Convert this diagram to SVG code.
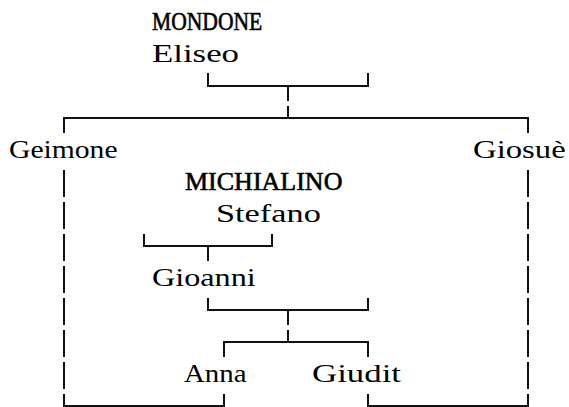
<svg xmlns="http://www.w3.org/2000/svg" width="569" height="407" viewBox="0 0 569 407">
<style>
.t{font-family:"Liberation Serif","Times New Roman",serif;font-size:26px;fill:#000}
.b{stroke:#000;stroke-width:0.6}
.c{fill:none;stroke:#111;stroke-width:2;stroke-linejoin:miter}
</style>
<rect width="569" height="407" fill="#fff"/>
<g id="connectors" class="c">
<path d="M208,73V86H368V73M288,86V101"/>
<path d="M64,133V118H528V133M288,106V118"/>
<path d="M64,170V197M64,202V229M64,234V261M64,266V293M64,298V325M64,330V357M64,362V389"/>
<path d="M528,170V197M528,202V229M528,234V261M528,266V293M528,298V325M528,330V357M528,362V389"/>
<path d="M64,394V406H224V394"/>
<path d="M368,394V406H528V394"/>
<path d="M144,234V246H272V234M208,246V261"/>
<path d="M208,298V310H368V298M288,310V325"/>
<path d="M224,357V342H368V357M288,330V342"/>
</g>
<g id="mondone-eliseo">
<text class="t b" transform="translate(152 30) scale(0.83 1)">MONDONE</text>
<text class="t" transform="translate(152 62) scale(1.34 1)">Eliseo</text>
</g>
<g id="geimone"><text class="t" transform="translate(9 158) scale(1.14 1)">Geimone</text></g>
<g id="giosue"><text class="t" transform="translate(473 158) scale(1.26 1)">Giosuè</text></g>
<g id="michialino-stefano">
<text class="t b" x="185" y="190">MICHIALINO</text>
<text class="t" transform="translate(216 222) scale(1.32 1)">Stefano</text>
</g>
<g id="gioanni"><text class="t" transform="translate(152 286) scale(1.24 1)">Gioanni</text></g>
<g id="anna"><text class="t" transform="translate(184 382) scale(1.11 1)">Anna</text></g>
<g id="giudit"><text class="t" transform="translate(312 382) scale(1.34 1)">Giudit</text></g>
</svg>
